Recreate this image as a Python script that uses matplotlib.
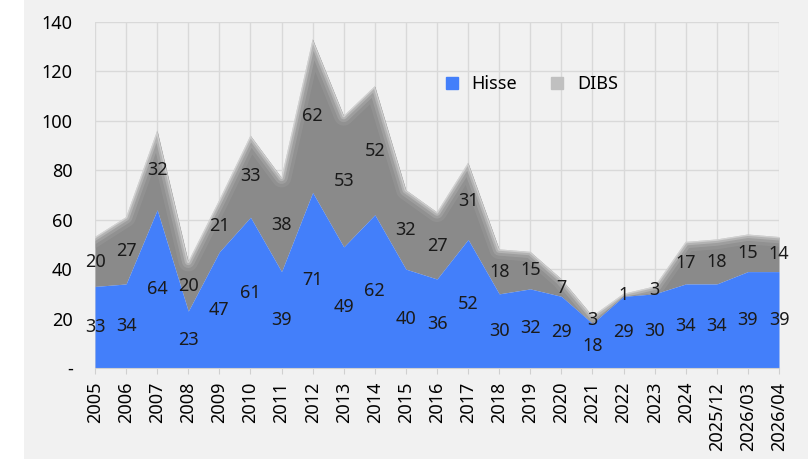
import matplotlib
matplotlib.use("Agg")
import matplotlib.pyplot as plt
import numpy as np
from matplotlib.patches import Rectangle
from matplotlib.lines import Line2D

categories = ["2005", "2006", "2007", "2008", "2009", "2010", "2011", "2012", "2013",
              "2014", "2015", "2016", "2017", "2018", "2019", "2020", "2021", "2022",
              "2023", "2024", "2025/12", "2026/03", "2026/04"]
hisse = [33, 34, 64, 23, 47, 61, 39, 71, 49, 62, 40, 36, 52, 30, 32, 29, 18, 29, 30, 34, 34, 39, 39]
dibs = [20, 27, 32, 20, 21, 33, 38, 62, 53, 52, 32, 27, 31, 18, 15, 7, 3, 1, 3, 17, 18, 15, 14]
yticks = [0, 20, 40, 60, 80, 100, 120, 140]
ytick_labels = ["-", "20", "40", "60", "80", "100", "120", "140"]

plt.rcParams['font.family'] = ['Noto Sans', 'DejaVu Sans']

BG = "#f1f1f1"
BLUE = "#437ffa"
GRAY = "#8a8a8a"
FS = 13

fig = plt.figure(figsize=(8.08, 4.59), dpi=100)
fig.patch.set_facecolor(BG)
fig.patches.append(Rectangle((0, 0), 24 / 808, 1, transform=fig.transFigure,
                             facecolor="white", edgecolor="none", zorder=-10))
ax = fig.add_axes([95 / 808, 1 - 368 / 459, (779 - 95) / 808, (368 - 22) / 459])
ax.set_facecolor(BG)

x = np.arange(len(categories))
h = np.array(hisse, dtype=float)
d = np.array(dibs, dtype=float)
tot = h + d

poly = ax.fill_between(x, h, tot, color=GRAY, linewidth=0, zorder=2)
# soft inner glow on gray area edges
path = poly.get_paths()[0]
for lw, col, a in [(14, "#a0a0a0", 0.35), (9, "#b4b4b4", 0.4), (5, "#c8c8c8", 0.5), (2, "#dedede", 0.6)]:
    l1, = ax.plot(x, tot, color=col, lw=lw, alpha=a, zorder=2.5, solid_joinstyle="round")
    l1.set_clip_path(path, ax.transData)

ax.fill_between(x, 0, h, color=BLUE, linewidth=0, zorder=3)

for i in range(len(x)):
    ax.text(x[i], h[i] / 2, str(hisse[i]), ha="center", va="center", fontsize=FS,
            color="#1a1a1a", zorder=5)
    ax.text(x[i], h[i] + d[i] / 2, str(dibs[i]), ha="center", va="center", fontsize=FS,
            color="#1a1a1a", zorder=5)

ax.set_xlim(0, len(x) - 1)
ax.set_ylim(0, 140)
ax.set_yticks(yticks)
ax.set_yticklabels(ytick_labels, fontsize=FS)
ax.set_xticks(x)
ax.set_xticklabels(categories, rotation=90, fontsize=FS)
ax.tick_params(axis="y", length=0, pad=16)
ax.tick_params(axis="x", length=4, color="#d0d0d0", pad=6)
ax.grid(True, color="#d9d9d9", linewidth=1, zorder=0)
ax.set_axisbelow(True)
for s in ["top", "right", "left"]:
    ax.spines[s].set_visible(False)
ax.spines["bottom"].set_color("#d0d0d0")
ax.spines["bottom"].set_zorder(6)

handles = [Line2D([], [], marker="s", linestyle="none", markersize=9, color=BLUE),
           Line2D([], [], marker="s", linestyle="none", markersize=9, color="#c0c0c0")]
ax.legend(handles, ["Hisse", "DIBS"], loc="center", bbox_to_anchor=(0.63, 0.82),
          ncol=2, frameon=False, fontsize=FS, handletextpad=0.1, columnspacing=1.2)

fig.savefig("out.png", dpi=100, facecolor=fig.get_facecolor())
